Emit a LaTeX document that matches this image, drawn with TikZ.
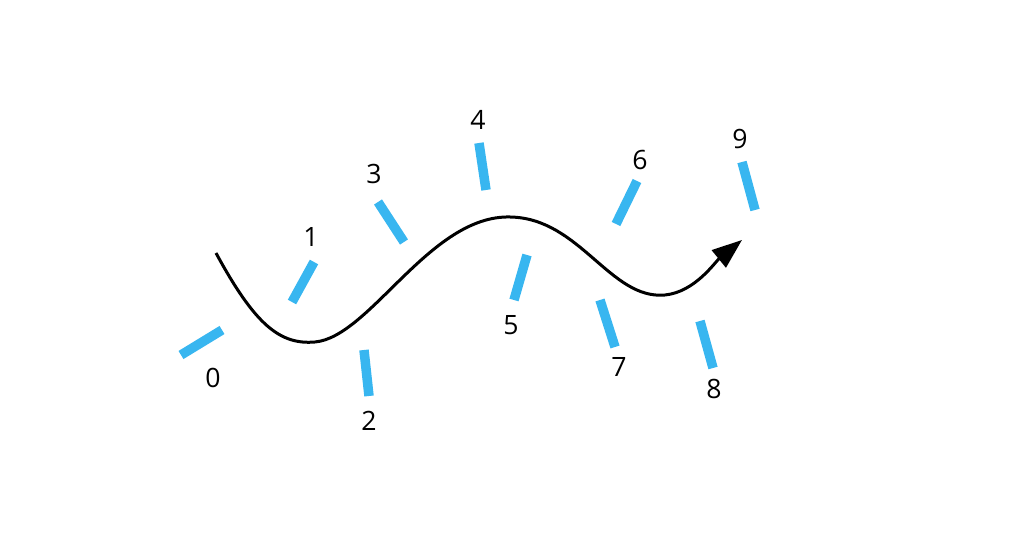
\documentclass[tikz,border=0pt]{standalone}
\usepackage{fontspec}
\setmainfont{Open Sans}
\usetikzlibrary{arrows.meta}
\tikzset{bar/.style={line width=9.5*0.0264cm, draw={rgb,255:red,56;green,182;blue,240}},
lbl/.style={font=\fontsize{20}{24}\selectfont}}
\begin{document}
\begin{tikzpicture}[x=0.0264cm,y=-0.0264cm]
\useasboundingbox (0,0) rectangle (1024,537);
\draw[line width=3*0.0264cm,-{Triangle[length=30*0.0264cm,width=22*0.0264cm]}]
 (216,253) .. controls (255,325) and (280,345) .. (315,342)
 .. controls (370,337) and (430,215) .. (510,217)
 .. controls (580,218) and (610,300) .. (665,295)
 .. controls (695,292) and (715,262) .. (742,240);
\draw[bar] (181,355)--(222,330);
\draw[bar] (292,302)--(314,262);
\draw[bar] (364,350)--(369,396);
\draw[bar] (378,202)--(404,242);
\draw[bar] (479,143)--(486,190);
\draw[bar] (527,255)--(514,300);
\draw[bar] (637,181)--(616,224);
\draw[bar] (600,300)--(615,347);
\draw[bar] (700,321)--(713,368);
\draw[bar] (742,162)--(755,210);
\node[lbl] (l0) at (213,378) {0};
\node[lbl] (l1) at (311,237) {1};
\node[lbl] (l2) at (369,421) {2};
\node[lbl] (l3) at (374,174) {3};
\node[lbl] (l4) at (478,120) {4};
\node[lbl] (l5) at (511,325) {5};
\node[lbl] (l6) at (640,160) {6};
\node[lbl] (l7) at (619,367) {7};
\node[lbl] (l8) at (714,389) {8};
\node[lbl] (l9) at (740,139) {9};
\end{tikzpicture}
\end{document}
